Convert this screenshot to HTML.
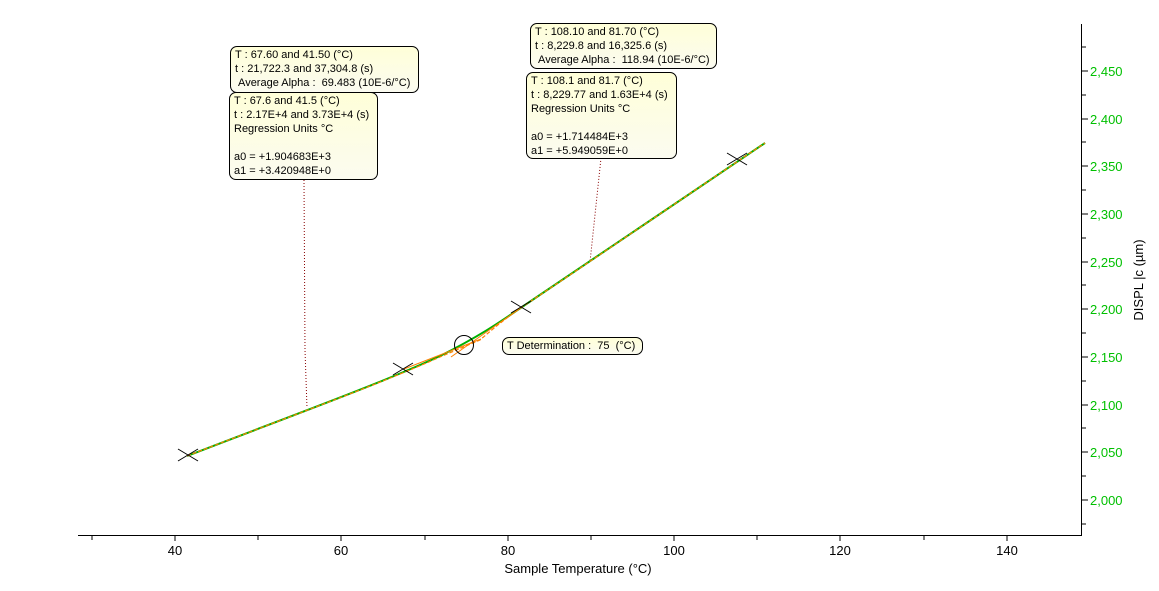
<!DOCTYPE html>
<html><head><meta charset="utf-8"><style>
body{margin:0;background:#fff;width:1159px;height:591px;overflow:hidden;font-family:"Liberation Sans",sans-serif;}
svg text{font-family:"Liberation Sans",sans-serif;}
.box{position:absolute;border:1px solid #000;border-radius:7px;background:linear-gradient(#ffffd8,#fbfbf0);font-size:11px;line-height:14px;padding:1px 4px;box-sizing:border-box;white-space:nowrap;color:#000}
</style></head><body>
<svg width="1159" height="591" style="position:absolute;left:0;top:0">
<line x1="78" y1="535.5" x2="1081" y2="535.5" stroke="#000"/>
<line x1="1081.5" y1="24" x2="1081.5" y2="536" stroke="#000"/>
<g stroke="#000">
<line x1="92" y1="536" x2="92" y2="540"/><line x1="175" y1="536" x2="175" y2="541"/><line x1="258" y1="536" x2="258" y2="540"/><line x1="341" y1="536" x2="341" y2="541"/><line x1="425" y1="536" x2="425" y2="540"/><line x1="508" y1="536" x2="508" y2="541"/><line x1="591" y1="536" x2="591" y2="540"/><line x1="674" y1="536" x2="674" y2="541"/><line x1="757" y1="536" x2="757" y2="540"/><line x1="840" y1="536" x2="840" y2="541"/><line x1="924" y1="536" x2="924" y2="540"/><line x1="1007" y1="536" x2="1007" y2="541"/>
</g>
<g font-size="13" fill="#000" text-anchor="middle">
<text x="175" y="555">40</text><text x="341" y="555">60</text><text x="508" y="555">80</text><text x="674" y="555">100</text><text x="840" y="555">120</text><text x="1007" y="555">140</text>
<text x="578" y="573">Sample Temperature (°C)</text>
</g>
<g stroke="#000">
<line x1="1082" y1="47" x2="1086" y2="47"/><line x1="1082" y1="71" x2="1088" y2="71"/><line x1="1082" y1="95" x2="1086" y2="95"/><line x1="1082" y1="119" x2="1088" y2="119"/><line x1="1082" y1="142" x2="1086" y2="142"/><line x1="1082" y1="166" x2="1088" y2="166"/><line x1="1082" y1="190" x2="1086" y2="190"/><line x1="1082" y1="214" x2="1088" y2="214"/><line x1="1082" y1="238" x2="1086" y2="238"/><line x1="1082" y1="262" x2="1088" y2="262"/><line x1="1082" y1="285" x2="1086" y2="285"/><line x1="1082" y1="309" x2="1088" y2="309"/><line x1="1082" y1="333" x2="1086" y2="333"/><line x1="1082" y1="357" x2="1088" y2="357"/><line x1="1082" y1="381" x2="1086" y2="381"/><line x1="1082" y1="405" x2="1088" y2="405"/><line x1="1082" y1="428" x2="1086" y2="428"/><line x1="1082" y1="452" x2="1088" y2="452"/><line x1="1082" y1="476" x2="1086" y2="476"/><line x1="1082" y1="500" x2="1088" y2="500"/><line x1="1082" y1="524" x2="1086" y2="524"/>
</g>
<g font-size="13" fill="#00c000">
<text x="1090" y="76">2,450</text><text x="1090" y="124">2,400</text><text x="1090" y="171">2,350</text><text x="1090" y="219">2,300</text><text x="1090" y="267">2,250</text><text x="1090" y="314">2,200</text><text x="1090" y="362">2,150</text><text x="1090" y="410">2,100</text><text x="1090" y="457">2,050</text><text x="1090" y="505">2,000</text>
</g>
<text x="1143" y="280" font-size="13" text-anchor="middle" transform="rotate(-90 1143 280)">DISPL |c (µm)</text>
<polyline points="304,180 305,350 307,408" fill="none" stroke="#800" stroke-dasharray="1,2"/>
<polyline points="601,158 590,262" fill="none" stroke="#800" stroke-dasharray="1,2"/>
<path d="M187,456 C280,420 380,384 440,356 C480,336 500,322 522,307 C600,255 680,200 765,143" fill="none" stroke="#00b000" stroke-width="2"/>
<path d="M187,456 C280,420 380,384 440,357 L480,340 C495,327 505,319 522,307 C600,255 680,200 765,143" fill="none" stroke="#ff8000" stroke-width="1.2" stroke-dasharray="4,2"/>
<line x1="404" y1="369" x2="481" y2="339" stroke="#ff8000"/>
<line x1="522" y1="307" x2="451" y2="357" stroke="#ff8000"/>
<g stroke="#000">
<line x1="178" y1="449" x2="198" y2="461"/><line x1="178" y1="461" x2="198" y2="449"/>
<line x1="393" y1="363" x2="413" y2="375"/><line x1="393" y1="375" x2="413" y2="363"/>
<line x1="511" y1="301" x2="531" y2="313"/><line x1="511" y1="313" x2="531" y2="301"/>
<line x1="727" y1="153" x2="747" y2="165"/><line x1="727" y1="165" x2="747" y2="153"/>
</g>
<circle cx="464" cy="345" r="9.5" fill="none" stroke="#000"/>
</svg>
<div class="box" style="left:230px;top:46px;width:189px;height:47px">T : 67.60 and 41.50 (°C)<br>t : 21,722.3 and 37,304.8 (s)<br>&nbsp;Average Alpha :&nbsp; 69.483 (10E-6/°C)</div>
<div class="box" style="left:229px;top:92px;width:149px;height:88px">T : 67.6 and 41.5 (°C)<br>t : 2.17E+4 and 3.73E+4 (s)<br>Regression Units °C<br><br>a0 = +1.904683E+3<br>a1 = +3.420948E+0</div>
<div class="box" style="left:530px;top:23px;width:187px;height:46px">T : 108.10 and 81.70 (°C)<br>t : 8,229.8 and 16,325.6 (s)<br>&nbsp;Average Alpha :&nbsp; 118.94 (10E-6/°C)</div>
<div class="box" style="left:526px;top:72px;width:151px;height:87px">T : 108.1 and 81.7 (°C)<br>t : 8,229.77 and 1.63E+4 (s)<br>Regression Units °C<br><br>a0 = +1.714484E+3<br>a1 = +5.949059E+0</div>
<div class="box" style="left:502px;top:337px;width:141px;height:18px;line-height:14px">T Determination :&nbsp; 75&nbsp; (°C)</div>
</body></html>
